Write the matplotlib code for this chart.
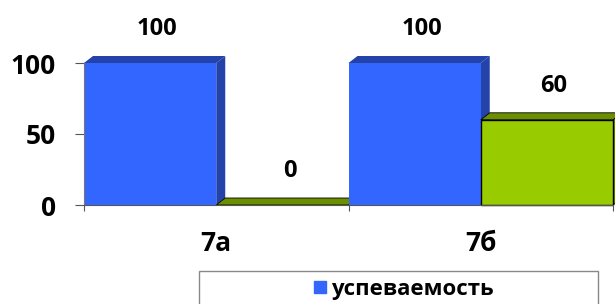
import matplotlib.pyplot as plt
from matplotlib.patches import Polygon, Rectangle
from matplotlib.lines import Line2D

plt.rcParams['font.family'] = ['Open Sans', 'DejaVu Sans']
plt.rcParams['font.weight'] = 'bold'

categories = ['7а', '7б']
uspev = [100, 100]
second = [0, 60]
series_names = ['успеваемость', '']

front = ['#3366ff', '#99cc00']
shade = ['#2343aa', '#6b8f00']
edges = ['none', '#000000']

W, H = 615, 304
fig = plt.figure(figsize=(W / 100, H / 100), dpi=100)
ax = fig.add_axes([84 / W, (H - 205) / H, 529 / W, 142 / H])
ax.set_xlim(-0.5, 1.5)
ax.set_ylim(0, 100)

# depth offset of the fake 3d bars, in data units
dx = 9 * 2.0 / 529
dy = 7 * 100.0 / 142
bw = 0.5
px = 72 / 100  # one pixel in points

def bar3d(x0, h, fc, sc, ec):
    x1 = x0 + bw
    lw = 1.0 if ec != 'none' else 0
    ax.add_patch(Polygon([(x1, 0), (x1 + dx, dy), (x1 + dx, h + dy), (x1, h)],
                         closed=True, fc=sc, ec=ec, lw=lw * 0.6, clip_on=False))
    ax.add_patch(Polygon([(x0, h), (x1, h), (x1 + dx, h + dy), (x0 + dx, h + dy)],
                         closed=True, fc=sc, ec=ec, lw=lw * 0.6, clip_on=False))
    if h > 0:
        ax.add_patch(Rectangle((x0, 0), bw, h, fc=fc, ec=ec, lw=lw, clip_on=False))

for i in range(len(categories)):
    for s, vals in enumerate([uspev, second]):
        x0 = i - 0.5 + s * bw
        bar3d(x0, vals[i], front[s], shade[s], edges[s])
        ax.annotate(str(vals[i]), (x0 + bw / 2, vals[i]), xytext=(7 * px, 34 * px),
                    textcoords='offset points', ha='center', va='center',
                    fontsize=17, fontweight='bold')

ax.set_yticks([0, 50, 100])
ax.set_yticklabels(['0', '50', '100'], fontsize=19, fontweight='bold')
ax.set_xticks([-0.5, 0.5, 1.5])
ax.set_xticklabels([])
ax.set_xticks([0, 1], minor=True)
ax.set_xticklabels(categories, minor=True, fontsize=19, fontweight='bold')
ax.tick_params(axis='x', which='minor', length=0, pad=25 * px)
ax.tick_params(axis='x', which='major', length=6 * px, color='#555555')
ax.tick_params(axis='y', length=9 * px, color='#555555', pad=19 * px)
for side in ['top', 'right']:
    ax.spines[side].set_visible(False)
ax.spines['left'].set_color('#777777')
ax.spines['bottom'].set_color('#555555')
ax.set_facecolor('none')

# legend box, cut by the lower edge of the picture
fig.patches.append(Rectangle((199 / W, -0.05), 399 / W, (H - 271) / H + 0.05,
                             transform=fig.transFigure, fc='white', ec='#888888', lw=1))
handle = Line2D([], [], marker='s', ls='none', color=front[0], markersize=9)
fig.legend([handle], [series_names[0]], loc='center', bbox_to_anchor=(403 / W, (H - 289) / H),
           frameon=False, fontsize=16, handletextpad=0.15, handlelength=0.7)

fig.savefig('out.png', dpi=100)
